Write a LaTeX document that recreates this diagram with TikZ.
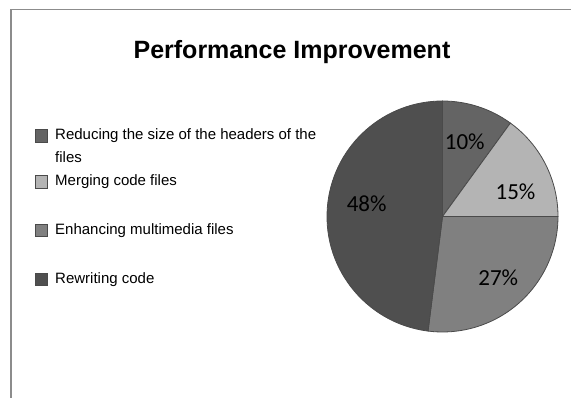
\documentclass[tikz,border=0pt]{standalone}
\usepackage{fontspec}
\setmainfont{Liberation Sans}
\newfontfamily\calib{Carlito}
\definecolor{sliceA}{HTML}{646464}
\definecolor{sliceB}{HTML}{B4B4B4}
\definecolor{sliceC}{HTML}{808080}
\definecolor{sliceD}{HTML}{4F4F4F}
\definecolor{edgegray}{HTML}{4A4A4A}
\definecolor{framegray}{HTML}{8C8C8C}
\begin{document}
\begin{tikzpicture}[x=1pt,y=1pt,
  slice/.style={draw=edgegray,line width=0.8pt,line join=round},
  legsq/.style={draw=edgegray,line width=0.7pt,minimum size=12.5pt,inner sep=0pt},
  legtxt/.style={anchor=base west,inner sep=0pt,font=\fontsize{15}{18}\selectfont},
  pct/.style={inner sep=0pt,font=\calib\fontsize{23}{26}\selectfont},
  titletxt/.style={anchor=base,inner sep=0pt,font=\fontsize{25}{30}\selectfont\bfseries}]
\useasboundingbox (0,0) rectangle (571,398);
\fill[white] (0,0) rectangle (571,398);
% frame
\coordinate (fb) at (11,-2);
\coordinate (ftl) at (11,388.7);
\coordinate (fr) at (573,388.7);
\draw[framegray,line width=1.5pt] (fb) -- (ftl) -- (fr);
% title
\node[titletxt] (title) at (292,339) {Performance Improvement};
% pie
\coordinate (C) at (442.5,181.5);
\def\R{115.5}
\filldraw[slice,fill=sliceA] (C) -- ++(90:\R) arc[start angle=90,end angle=54,radius=\R] -- cycle;
\filldraw[slice,fill=sliceB] (C) -- ++(54:\R) arc[start angle=54,end angle=0,radius=\R] -- cycle;
\filldraw[slice,fill=sliceC] (C) -- ++(0:\R) arc[start angle=0,end angle=-97.2,radius=\R] -- cycle;
\filldraw[slice,fill=sliceD] (C) -- ++(-97.2:\R) arc[start angle=-97.2,end angle=-270,radius=\R] -- cycle;
\node[pct] (p10) at (464.8,255.8) {10\%};
\node[pct] (p15) at (515.5,206.3) {15\%};
\node[pct] (p48) at (366.7,193.8) {48\%};
\node[pct] (p27) at (498.3,119.8) {27\%};
% legend
\node[legsq,fill=sliceA] (sq1) at (41.5,262) {};
\node[legsq,fill=sliceB] (sq2) at (41.5,216) {};
\node[legsq,fill=sliceC] (sq3) at (41.5,167.5) {};
\node[legsq,fill=sliceD] (sq4) at (41.5,118.5) {};
\node[legtxt] (l1) at (55,258) {Reducing the size of the headers of the};
\node[legtxt] (l1b) at (55,235) {files};
\node[legtxt] (l2) at (55,212.3) {Merging code files};
\node[legtxt] (l3) at (55,163.3) {Enhancing multimedia files};
\node[legtxt] (l4) at (55,114) {Rewriting code};
\end{tikzpicture}
\end{document}
